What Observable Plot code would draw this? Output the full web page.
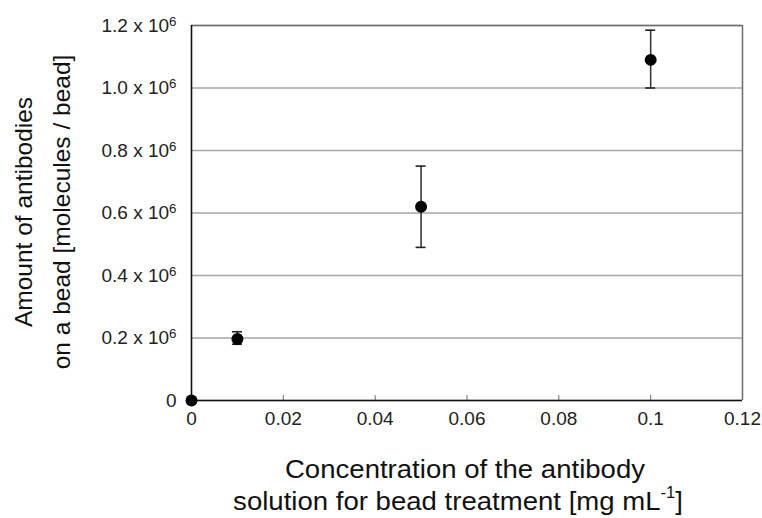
<!DOCTYPE html>
<html>
<head>
<meta charset="utf-8">
<script src="https://cdn.jsdelivr.net/npm/d3@7"></script>
<script src="https://cdn.jsdelivr.net/npm/@observablehq/plot@0.6"></script>
<style>
  html, body { margin: 0; padding: 0; background: #fff; }
  #wrap { position: relative; width: 762px; height: 518px; font-family: "Liberation Sans", Arial, sans-serif; color: #111; }
  #wrap svg { position: absolute; left: 0; top: 0; }
  .xt { position: absolute; white-space: nowrap; font-size: 26px; line-height: 26px; transform: translateX(-50%) scaleX(1.06); }
  .yt { position: absolute; white-space: nowrap; font-size: 24.5px; line-height: 38px; text-align: center; left: 43px; top: 212px; transform: translate(-50%, -50%) rotate(-90deg); }
  sup { font-size: 0.6em; vertical-align: 0; position: relative; top: -0.75em; }
</style>
</head>
<body>
<div id="wrap"></div>
<script>
// Data
const concentration = [0, 0.01, 0.05, 0.1];            // mg/mL
const amount        = [0, 0.197e6, 0.62e6, 1.09e6];    // molecules / bead
const errLow        = [null, 0.18e6, 0.49e6, 1.0e6];
const errHigh       = [null, 0.22e6, 0.75e6, 1.185e6];
const xTicks = [0, 0.02, 0.04, 0.06, 0.08, 0.1, 0.12];
const yTicks = [0, 0.2e6, 0.4e6, 0.6e6, 0.8e6, 1.0e6, 1.2e6];

const points = concentration.map((c, i) => ({x: c, y: amount[i], lo: errLow[i], hi: errHigh[i]}));
const bars = points.filter(d => d.lo != null);

const chart = Plot.plot({
  width: 762,
  height: 518,
  marginLeft: 191,
  marginRight: 20,
  marginTop: 25,
  marginBottom: 118,
  style: {fontFamily: "'Liberation Sans', Arial, sans-serif", background: "transparent", overflow: "visible"},
  x: {domain: [0, 0.12]},
  y: {domain: [0, 1.2e6]},
  marks: [
    Plot.gridY(yTicks, {stroke: "#a6a6a6", strokeOpacity: 1, strokeWidth: 1.3}),
    Plot.ruleY([1.2e6], {stroke: "#6e6e6e", strokeWidth: 1.5}),
    Plot.ruleX([0.12], {stroke: "#6e6e6e", strokeWidth: 1.5}),
    Plot.ruleX(xTicks.slice(1), {x: d => d, y1: 0, y2: 0, insetTop: -5, stroke: "#6e6e6e", strokeWidth: 1}),
    Plot.ruleX([0], {stroke: "#111", strokeWidth: 1.6}),
    Plot.ruleY([0], {stroke: "#111", strokeWidth: 1.6}),
    Plot.axisX({ticks: xTicks, tickSize: 0, tickPadding: 11, fontSize: 19, fill: "#222", label: null,
      tickFormat: d => String(d)}),
    Plot.axisY({ticks: yTicks, tickSize: 0, tickPadding: 15, fontSize: 19, fill: "#222", label: null,
      tickFormat: d => d === 0 ? "0" : (d / 1e6).toFixed(1) + " x 10"}),
    Plot.ruleX(bars, {x: "x", y1: "lo", y2: "hi", stroke: "#3a3a3a", strokeWidth: 1.6}),
    Plot.ruleY(bars, {x1: "x", x2: "x", y: "hi", insetLeft: -5, insetRight: -5, stroke: "#222", strokeWidth: 1.6}),
    Plot.ruleY(bars, {x1: "x", x2: "x", y: "lo", insetLeft: -5, insetRight: -5, stroke: "#222", strokeWidth: 1.6}),
    Plot.dot(points, {x: "x", y: "y", r: 6, fill: "#000", stroke: "none", clip: false})
  ]
});

// superscript exponent on y tick labels
d3.select(chart).selectAll("text").each(function() {
  const t = d3.select(this);
  const s = t.text();
  if (/ x 10$/.test(s)) {
    t.text(s);
    t.append("tspan").attr("dy", "-0.45em").attr("font-size", "0.7em").text("6");
  }
});

const wrap = document.getElementById("wrap");
wrap.appendChild(chart);

const x1 = document.createElement("div");
x1.className = "xt"; x1.style.left = "465px"; x1.style.top = "456px";
x1.textContent = "Concentration of the antibody";
const x2 = document.createElement("div");
x2.className = "xt"; x2.style.left = "458px"; x2.style.top = "488px";
x2.innerHTML = "solution for bead treatment [mg mL<sup>-1</sup>]";
const yt = document.createElement("div");
yt.className = "yt";
yt.innerHTML = "Amount of antibodies<br>on a bead [molecules / bead]";
wrap.appendChild(x1); wrap.appendChild(x2); wrap.appendChild(yt);
</script>
</body>
</html>
